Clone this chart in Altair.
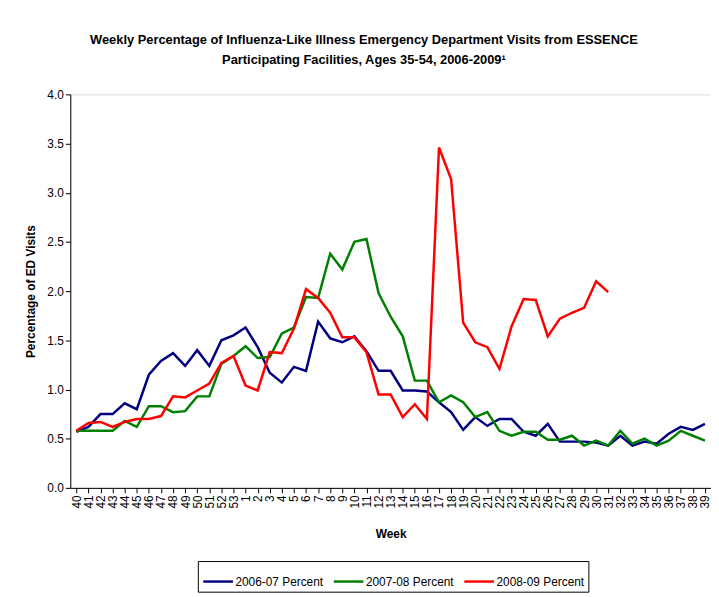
import altair as alt
import pandas as pd

weeks = [str(w) for w in list(range(40, 54)) + list(range(1, 40))]

s2006 = [0.57, 0.62, 0.75, 0.75, 0.86, 0.80, 1.15, 1.29, 1.37, 1.24, 1.40, 1.24, 1.50, 1.55,
         1.63, 1.43, 1.17, 1.07, 1.23, 1.19, 1.69, 1.52, 1.48, 1.54, 1.39, 1.19, 1.19, 0.99,
         0.99, 0.98, 0.87, 0.77, 0.59, 0.72, 0.63, 0.70, 0.70, 0.57, 0.53, 0.65, 0.47, 0.47,
         0.47, 0.46, 0.43, 0.53, 0.43, 0.47, 0.45, 0.55, 0.62, 0.59, 0.65]
s2007 = [0.58, 0.58, 0.58, 0.58, 0.68, 0.62, 0.83, 0.83, 0.77, 0.78, 0.93, 0.93, 1.26, 1.34,
         1.44, 1.32, 1.33, 1.57, 1.63, 1.94, 1.93, 2.38, 2.22, 2.50, 2.53, 1.98, 1.74, 1.54,
         1.09, 1.09, 0.87, 0.94, 0.87, 0.72, 0.77, 0.58, 0.53, 0.57, 0.57, 0.49, 0.49, 0.53,
         0.43, 0.48, 0.43, 0.58, 0.45, 0.50, 0.43, 0.48, 0.58, 0.53, 0.48]
s2008 = [0.58, 0.66, 0.67, 0.62, 0.67, 0.70, 0.70, 0.73, 0.93, 0.92, 0.99, 1.06, 1.27, 1.34,
         1.04, 0.99, 1.38, 1.37, 1.62, 2.02, 1.93, 1.78, 1.53, 1.53, 1.38, 0.95, 0.95, 0.72,
         0.85, 0.70, 3.46, 3.14, 1.68, 1.48, 1.43, 1.21, 1.64, 1.92, 1.91, 1.54, 1.72, 1.78,
         1.83, 2.10, 1.99]

series_names = ["2006-07 Percent", "2007-08 Percent", "2008-09 Percent"]
series_colors = ["#000080", "#008000", "#FF0000"]

rows = []
for name, vals in zip(series_names, [s2006, s2007, s2008]):
    for i, v in enumerate(vals):
        rows.append({"Week": weeks[i], "Series": name, "Value": v, "order": i})
df = pd.DataFrame(rows)

font = "Liberation Sans, Arial, sans-serif"

chart = alt.Chart(df).mark_line(strokeWidth=2.5).encode(
    x=alt.X("Week:O", sort=weeks,
            scale=alt.Scale(type="point", padding=0.5),
            axis=alt.Axis(title="Week", labelAngle=270, labelFontSize=12,
                          labelFont=font, titleFont=font, titleFontSize=12,
                          titleFontWeight="bold", titlePadding=21, tickSize=5,
                          domainColor="black", tickColor="black", labelColor="black",
                          labelPadding=2)),
    y=alt.Y("Value:Q", scale=alt.Scale(domain=[0, 4]),
            axis=alt.Axis(title="Percentage of ED Visits", values=[0, 0.5, 1, 1.5, 2, 2.5, 3, 3.5, 4],
                          format=".1f", grid=False, labelFontSize=12, labelFont=font,
                          titleFont=font, titleFontSize=12, titleFontWeight="bold",
                          titlePadding=10, tickSize=5, domainColor="black",
                          tickColor="black", labelColor="black")),
    color=alt.Color("Series:N", scale=alt.Scale(domain=series_names, range=series_colors),
                    legend=alt.Legend(title=None, orient="none", legendX=129, legendY=472,
                                      direction="horizontal", symbolType="stroke",
                                      symbolSize=900, symbolStrokeWidth=2.5,
                                      labelFontSize=12, labelFont=font, labelColor="black",
                                      strokeColor="black", padding=4, columnPadding=5,
                                      labelOffset=1)),
    order="order:Q",
).properties(
    width=648, height=398,
    autosize=alt.AutoSizeParams(type="none"),
    padding={"left": 63, "top": 84, "right": 0, "bottom": 104},
    title=alt.TitleParams(
        text=["Weekly Percentage of Influenza-Like Illness Emergency Department Visits from ESSENCE",
              "Participating Facilities, Ages 35-54, 2006-2009¹"],
        font="Liberation Sans Narrow, Arial Narrow, Liberation Sans, sans-serif",
        fontSize=13, fontWeight="bold", color="black", anchor="middle",
        dx=-27, offset=22, lineHeight=20),
).configure_view(stroke=None).configure(background="white")

chart.save("out.html", embed_options={"renderer": "svg", "actions": False})
